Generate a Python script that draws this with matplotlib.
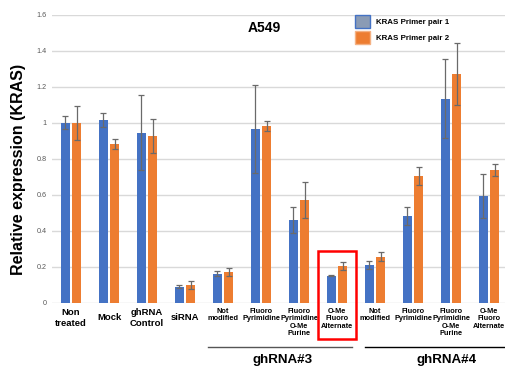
import numpy as np
import matplotlib
matplotlib.use("Agg")
import matplotlib.pyplot as plt
from matplotlib.patches import Patch, Rectangle

plt.rcParams['font.family'] = ['Liberation Sans', 'DejaVu Sans']

labels = ["Non\ntreated", "Mock", "ghRNA\nControl", "siRNA",
          "Not\nmodified", "Fluoro\nPyrimidine", "Fluoro\nPyrimidine\nO-Me\nPurine", "O-Me\nFluoro\nAlternate",
          "Not\nmodified", "Fluoro\nPyrimidine", "Fluoro\nPyrimidine\nO-Me\nPurine", "O-Me\nFluoro\nAlternate"]

pair1 = [1.00, 1.015, 0.945, 0.089, 0.161, 0.963, 0.459, 0.150, 0.208, 0.482, 1.133, 0.593]
pair1_err = [0.038, 0.037, 0.21, 0.008, 0.015, 0.245, 0.074, 0.003, 0.022, 0.05, 0.22, 0.12]
pair2 = [1.00, 0.882, 0.925, 0.098, 0.170, 0.983, 0.570, 0.204, 0.256, 0.706, 1.270, 0.737]
pair2_err = [0.095, 0.026, 0.095, 0.02, 0.02, 0.028, 0.10, 0.02, 0.027, 0.05, 0.17, 0.033]

blue = '#4472C4'
orange = '#ED7D31'

fig = plt.figure(figsize=(5.06, 3.67), dpi=100)
ax = fig.add_axes([0.1028, 0.1752, 0.9012, 0.785])

x = np.arange(len(labels))
w = 0.24
ax.bar(x - 0.15, pair1, w, color=blue, zorder=2)
ax.bar(x + 0.15, pair2, w, color=orange, zorder=2)
ax.errorbar(x - 0.15, pair1, yerr=pair1_err, fmt='none', ecolor='#6a6a6a', elinewidth=0.9, capsize=2.5, capthick=0.9, zorder=3)
ax.errorbar(x + 0.15, pair2, yerr=pair2_err, fmt='none', ecolor='#6a6a6a', elinewidth=0.9, capsize=2.5, capthick=0.9, zorder=3)

ax.set_xlim(-0.5, 11.5)
ax.set_ylim(0, 1.6)
yt = np.arange(0, 1.61, 0.2)
ax.set_yticks(yt)
ax.set_yticklabels(['0' if v == 0 else ('%g' % round(v, 1)) for v in yt], fontsize=5.2, color='#595959')
ax.tick_params(axis='y', length=0, pad=4)
ax.set_xticks([])
ax.grid(axis='y', color='#d9d9d9', linewidth=1, zorder=0)
for s in ax.spines.values():
    s.set_visible(False)

ax.set_ylabel("Relative expression (KRAS)", fontsize=11.5, fontweight='bold')
ax.yaxis.set_label_coords(-0.058, 0.461)

# category labels
for i, lab in enumerate(labels):
    if i < 4:
        ax.text(i, -0.083, lab, ha='center', va='center', fontsize=6.8, fontweight='bold',
                linespacing=1.3, clip_on=False)
    else:
        ax.text(i, -0.027, lab, ha='center', va='top', fontsize=5.3, fontweight='bold',
                linespacing=1.1, clip_on=False)

# group brackets
ax.plot([3.6, 7.39], [-0.246, -0.246], color='#555555', lw=1, clip_on=False)
ax.plot([7.74, 11.5], [-0.246, -0.246], color='black', lw=1, clip_on=False)
ax.text(5.58, -0.318, "ghRNA#3", ha='center', va='center', fontsize=9.6, fontweight='bold')
ax.text(9.87, -0.318, "ghRNA#4", ha='center', va='center', fontsize=9.6, fontweight='bold')

# highlight box
ax.add_patch(Rectangle((6.5, -0.2), 1.0, 0.487, fill=False, edgecolor='#ff0000', lw=1.8, clip_on=False, zorder=4))

ax.text(5.08, 1.526, "A549", ha='center', va='center', fontsize=10, fontweight='bold')

handles = [Patch(facecolor='#8A9BB5', edgecolor=blue, lw=1, label='KRAS Primer pair 1'),
           Patch(facecolor=orange, edgecolor='#f4b183', lw=1, label='KRAS Primer pair 2')]
ax.legend(handles=handles, loc='upper left', bbox_to_anchor=(355 / 506, 1 - 15 / 367),
          bbox_transform=fig.transFigure, frameon=False, borderpad=0, borderaxespad=0,
          handlelength=1.9, handleheight=2.15, labelspacing=0.4, handletextpad=0.75,
          prop={'size': 5.7, 'weight': 'bold'})

plt.savefig("out.png", dpi=100)
